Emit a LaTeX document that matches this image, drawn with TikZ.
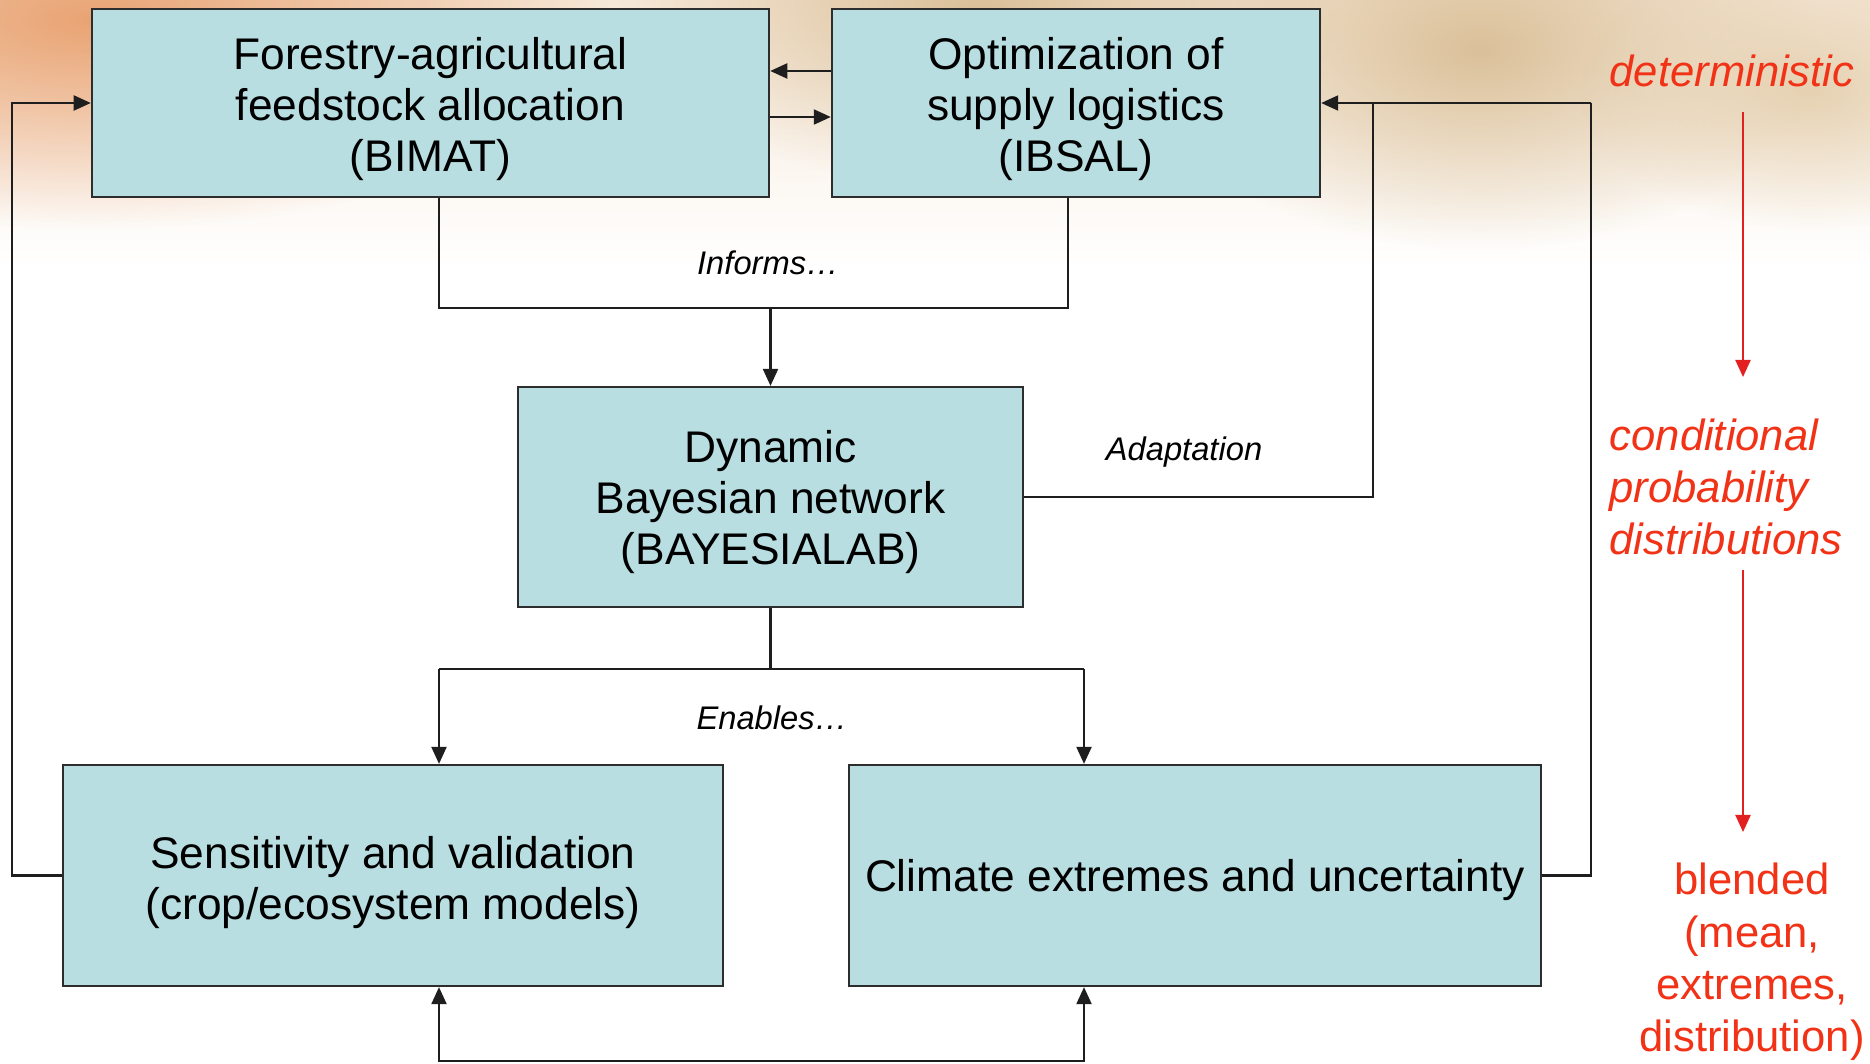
\documentclass[tikz,border=0pt]{standalone}
\usepackage{fontspec}
\setmainfont{Liberation Sans}
\usetikzlibrary{arrows.meta,fadings}

\definecolor{boxfill}{RGB}{184,222,226}
\definecolor{boxline}{RGB}{45,45,45}
\definecolor{linkcol}{RGB}{30,30,30}
\definecolor{redtext}{RGB}{242,50,22}
\definecolor{redline}{RGB}{226,32,32}
\definecolor{bgtop}{RGB}{246,232,216}
\definecolor{glowA}{RGB}{232,156,104}
\definecolor{glowB}{RGB}{216,188,146}
\definecolor{glowC}{RGB}{228,206,172}

\tikzfading[name=softglow, inner color=transparent!10, outer color=transparent!100]

\begin{document}
\begin{tikzpicture}[x=0.01cm, y=-0.01cm,
  box/.style={draw=boxline, line width=0.6pt, fill=boxfill, inner sep=0pt},
  boxtext/.style={inner sep=0pt, align=center, font=\fontsize{12.6}{14.6}\selectfont},
  link/.style={draw=linkcol, line width=0.6pt},
  arr/.style={link, -{Triangle[length=0.17cm, width=0.15cm]}},
  lbl/.style={inner sep=0pt, font=\fontsize{9.3}{11}\selectfont\itshape},
  redlbl/.style={inner sep=0pt, text=redtext, font=\fontsize{12.4}{14.9}\selectfont},
  redarr/.style={draw=redline, line width=0.6pt, -{Triangle[length=0.17cm, width=0.15cm]}}
]
\useasboundingbox (0,0) rectangle (1870,1064);

% background: pale wheat photo fading into white
\fill[white] (0,0) rectangle (1870,1064);
\shade[top color=bgtop, bottom color=white] (0,0) rectangle (1870,270);
\fill[glowA, path fading=softglow] (90,20) ellipse (520 and 210);
\fill[glowB, path fading=softglow] (980,10) ellipse (360 and 180);
\fill[glowB, path fading=softglow] (1480,50) ellipse (340 and 200);
\fill[glowC, path fading=softglow] (1810,90) ellipse (230 and 140);

% model boxes
\node[box, minimum width=6.77cm, minimum height=1.88cm] (bimat) at (430.5,103) {};
\node[box, minimum width=4.88cm, minimum height=1.88cm] (ibsal) at (1076,103) {};
\node[box, minimum width=5.05cm, minimum height=2.20cm] (dbn) at (770.5,497) {};
\node[box, minimum width=6.60cm, minimum height=2.21cm] (sens) at (393,875.5) {};
\node[box, minimum width=6.92cm, minimum height=2.21cm] (climate) at (1195,875.5) {};

% box texts
\node[boxtext] (bimat-t) at ([yshift=-0.06cm]bimat.center)
  {Forestry-agricultural\\feedstock allocation\\(BIMAT)};
\node[boxtext] (ibsal-t) at ([yshift=-0.06cm]ibsal.center)
  {Optimization of\\supply logistics\\(IBSAL)};
\node[boxtext] (dbn-t) at ([yshift=-0.05cm]dbn.center)
  {Dynamic\\Bayesian network\\(BAYESIALAB)};
\node[boxtext] (sens-t) at ([yshift=-0.07cm]sens.center)
  {Sensitivity and validation\\(crop/ecosystem models)};
\node[boxtext] (climate-t) at ([yshift=-0.05cm]climate.center)
  {Climate extremes and uncertainty};

% connector labels
\node[lbl] (informs) at (768,263) {Informs…};
\node[lbl] (adapt) at (1184,452) {Adaptation};
\node[lbl] (enables) at (772,718) {Enables…};

% routing points
\coordinate (loopX) at (12,0);
\coordinate (infL) at (439,308);
\coordinate (infR) at (1068,308);
\coordinate (adaptX) at (1373,103);
\coordinate (climX) at (1591,103);
\coordinate (enL) at (439,669);
\coordinate (enR) at (1084,669);
\coordinate (botL) at (439,1061);
\coordinate (botR) at (1084,1061);

% exchange between the two top models
\draw[arr] ([yshift=0.32cm]ibsal.west) -- ([yshift=0.32cm]bimat.east);
\draw[arr] ([yshift=-0.14cm]bimat.east) -- ([yshift=-0.14cm]ibsal.west);

% feedback from sensitivity back to allocation
\draw[arr] (sens.west) -- (sens.west -| loopX) |- (bimat.west);

% informs
\draw[link] (bimat.south -| infL) -- (infL) -- (infR) -- (ibsal.south -| infR);
\draw[arr] (infL -| dbn.north) -- (dbn.north);

% adaptation and climate feedback into logistics
\draw[link] (dbn.east) -| (adaptX);
\draw[link] (climate.east) -| (climX);
\draw[arr] (climX) -- (ibsal.east |- climX);

% enables
\draw[link] (dbn.south) -- (dbn.south |- enL);
\draw[link] (enL) -- (enR);
\draw[arr] (enL) -- (sens.north -| enL);
\draw[arr] (enR) -- (climate.north -| enR);

% link between the two bottom models
\draw[link, {Triangle[length=0.17cm, width=0.15cm]}-{Triangle[length=0.17cm, width=0.15cm]}]
  (sens.south -| botL) -- (botL) -- (botR) -- (climate.south -| botR);

% right column: from deterministic to blended
\node[redlbl, font=\fontsize{12.4}{14.9}\selectfont\itshape] (det) at (1732,71) {deterministic};
\node[redlbl, font=\fontsize{12.4}{14.9}\selectfont\itshape, align=left, anchor=west] (cond) at (1609,487)
  {conditional\\probability\\distributions};
\node[redlbl, align=center] (blend) at (1752,962)
  {blended\\(mean,\\extremes,\\distribution)};
\coordinate (r1a) at (1743,112);
\coordinate (r1b) at (1743,377);
\coordinate (r2a) at (1743,570);
\coordinate (r2b) at (1743,832);
\draw[redarr] (r1a) -- (r1b);
\draw[redarr] (r2a) -- (r2b);
\end{tikzpicture}
\end{document}
